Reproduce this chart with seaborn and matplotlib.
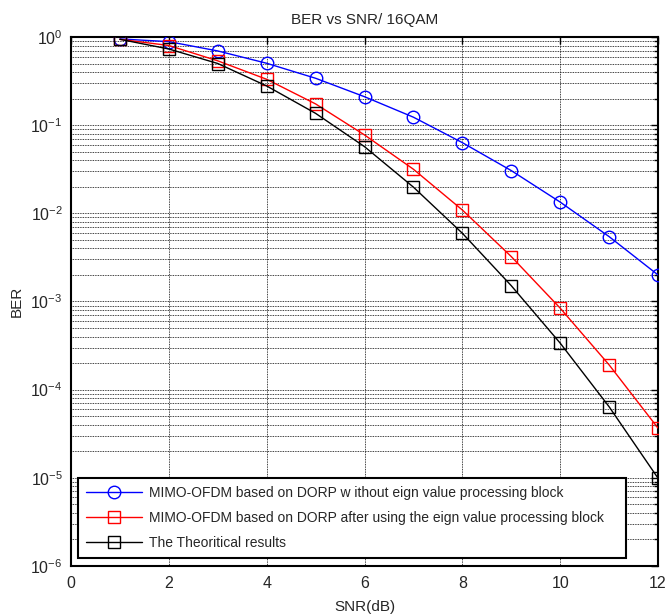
import matplotlib
matplotlib.use("Agg")
import matplotlib.pyplot as plt
import matplotlib.ticker as mticker
import numpy as np
import pandas as pd
import seaborn as sns

snr_db = [1, 2, 3, 4, 5, 6, 7, 8, 9, 10, 11, 12]
ber_without_eig = [0.95, 0.885, 0.694, 0.503, 0.340, 0.21, 0.123, 0.0633, 0.0305, 0.0134, 0.00544, 0.0020]
ber_with_eig = [0.94, 0.80, 0.536, 0.331, 0.174, 0.0774, 0.0316, 0.0109, 0.00323, 0.00084, 0.000191, 3.66e-5]
ber_theory = [0.94, 0.73, 0.50, 0.278, 0.136, 0.057, 0.0198, 0.00594, 0.00151, 0.000337, 6.4e-5, 9.9e-6]

labels = [
    "MIMO-OFDM based on DORP w ithout eign value processing block",
    "MIMO-OFDM based on DORP after using the eign value processing block",
    "The Theoritical results",
]
colors = ["#0000ff", "#ff0000", "#000000"]
markers = ["o", "s", "s"]

frames = []
for lab, vals in zip(labels, [ber_without_eig, ber_with_eig, ber_theory]):
    frames.append(pd.DataFrame({"SNR": snr_db, "BER": vals, "series": lab}))
df = pd.concat(frames, ignore_index=True)

sns.set_style("white")
plt.rcParams["font.family"] = ["Liberation Sans", "DejaVu Sans"]
plt.rcParams["mathtext.default"] = "regular"

fig = plt.figure(figsize=(6.65, 6.16), dpi=100)
ax = fig.add_axes([0.1068, 0.0812, 0.8827, 0.8588])

for lab, col, mk in zip(labels, colors, markers):
    sub = df[df["series"] == lab]
    sns.lineplot(data=sub, x="SNR", y="BER", ax=ax, color=col, marker=mk,
                 markersize=9, markerfacecolor="none", markeredgecolor=col,
                 markeredgewidth=1.0, linewidth=1.0, label=lab, zorder=3)

ax.set_yscale("log")
ax.set_xlim(0, 12)
ax.set_ylim(1e-6, 1)
ax.set_xticks(np.arange(0, 13, 2))
ax.yaxis.set_major_locator(mticker.LogLocator(base=10, numticks=10))
ax.yaxis.set_minor_locator(mticker.LogLocator(base=10, subs=np.arange(2, 10), numticks=20))
ax.yaxis.set_minor_formatter(mticker.NullFormatter())


def decade_label(v, pos):
    e = int(round(np.log10(v)))
    return r"$10^{\mathregular{%s}}$" % (("-" + str(-e)) if e < 0 else str(e))


ax.yaxis.set_major_formatter(mticker.FuncFormatter(decade_label))

grid_kw = dict(color="black", linestyle=(0, (1, 1)), linewidth=0.6)
ax.grid(True, which="major", axis="both", **grid_kw)
ax.grid(True, which="minor", axis="y", **grid_kw)
ax.set_axisbelow(True)

ax.tick_params(which="both", direction="in", top=True, right=True, labelsize=11.5,
               color="black", width=1.0)
ax.tick_params(which="major", length=5)
ax.tick_params(which="minor", length=3)
ax.tick_params(axis="x", pad=7)
ax.tick_params(axis="y", pad=6)
for s in ax.spines.values():
    s.set_color("black")
    s.set_linewidth(1.5)

ax.set_xlabel("SNR(dB)", fontsize=11, labelpad=7)
ax.set_ylabel("BER", fontsize=11, labelpad=5)
ax.set_title("BER vs SNR/ 16QAM", fontsize=11, pad=9)

leg = ax.legend(loc="lower left", bbox_to_anchor=(0.012, 0.015, 0.934, 0.15), mode="expand",
                borderaxespad=0, fontsize=10, handlelength=4.0, labelspacing=0.78,
                borderpad=0.58, handletextpad=0.5, fancybox=False, framealpha=1,
                edgecolor="black")
leg.get_frame().set_linewidth(1.5)

fig.savefig("out.png", dpi=100)
